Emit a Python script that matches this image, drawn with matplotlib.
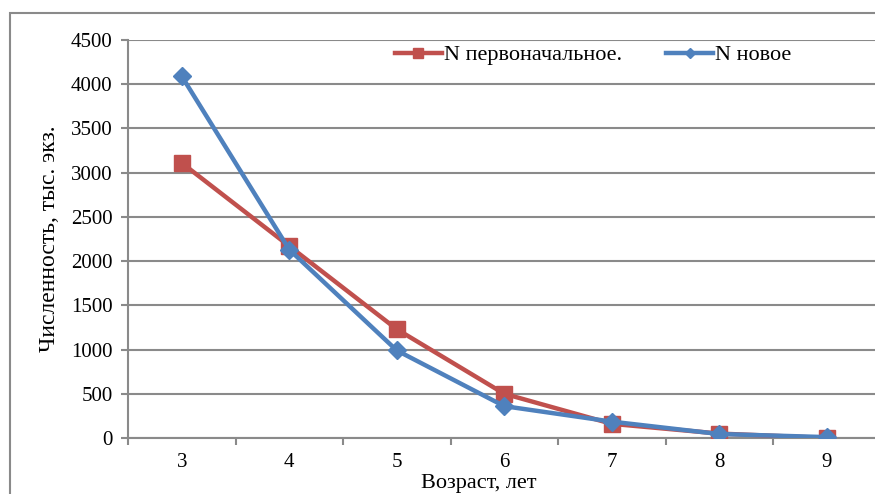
import matplotlib
matplotlib.use("Agg")
import matplotlib.pyplot as plt
from matplotlib.patches import Rectangle

ages = [3, 4, 5, 6, 7, 8, 9]
n_initial = [3110, 2170, 1230, 500, 160, 50, 0]
n_new = [4090, 2130, 990, 360, 185, 45, 10]
y_ticks = [0, 500, 1000, 1500, 2000, 2500, 3000, 3500, 4000, 4500]

plt.rcParams['font.family'] = 'serif'
plt.rcParams['font.serif'] = ['Liberation Serif', 'DejaVu Serif']

fig = plt.figure(figsize=(8.75, 4.94), dpi=100)
ax = fig.add_axes([128 / 875, 1 - 438 / 494, (880.5 - 128) / 875, 398 / 494])

# chart border (cropped at right/bottom)
fig.patches.append(Rectangle((9.5 / 875, -0.1), 1.2, 1 - 12.5 / 494 + 0.1,
                             transform=fig.transFigure, fill=False,
                             edgecolor='#8a8a8a', linewidth=1.5))

ax.plot(ages, n_initial, color='#c0504d', linewidth=3.2, marker='s',
        markersize=11, label='N первоначальное.', zorder=3)
ax.plot(ages, n_new, color='#4f81bd', linewidth=3.2, marker='D',
        markersize=9, label='N новое', zorder=4)

ax.set_xlim(2.5, 9.5)
ax.set_ylim(0, 4500)
ax.set_yticks(y_ticks)
ax.set_xticks(ages)
ax.set_xticks([a - 0.5 for a in ages] + [9.5], minor=True)
ax.tick_params(axis='x', which='major', length=0, pad=11, labelsize=15)
ax.tick_params(axis='x', which='minor', length=5, color='#8a8a8a', width=1.5)
ax.tick_params(axis='y', length=5, color='#8a8a8a', width=1.5, labelsize=15, pad=6)

ax.grid(axis='y', color='#8a8a8a', linewidth=1.5)
ax.set_axisbelow(True)
for s in ['top', 'right']:
    ax.spines[s].set_visible(False)
for s in ['left', 'bottom']:
    ax.spines[s].set_color('#8a8a8a')
    ax.spines[s].set_linewidth(1.5)

fig.text(479 / 875, 1 / 494, 'Возраст, лет', fontsize=16, ha='center', va='bottom')
ax.set_ylabel('Численность, тыс. экз.', fontsize=17, labelpad=8)

ax.legend(loc='center left', bbox_to_anchor=(0.34, 0.962), ncol=2, frameon=False,
          fontsize=16, handlelength=2.1, handletextpad=0.1, columnspacing=2.0,
          markerscale=0.6, borderpad=0)

fig.savefig('out.png', dpi=100)
